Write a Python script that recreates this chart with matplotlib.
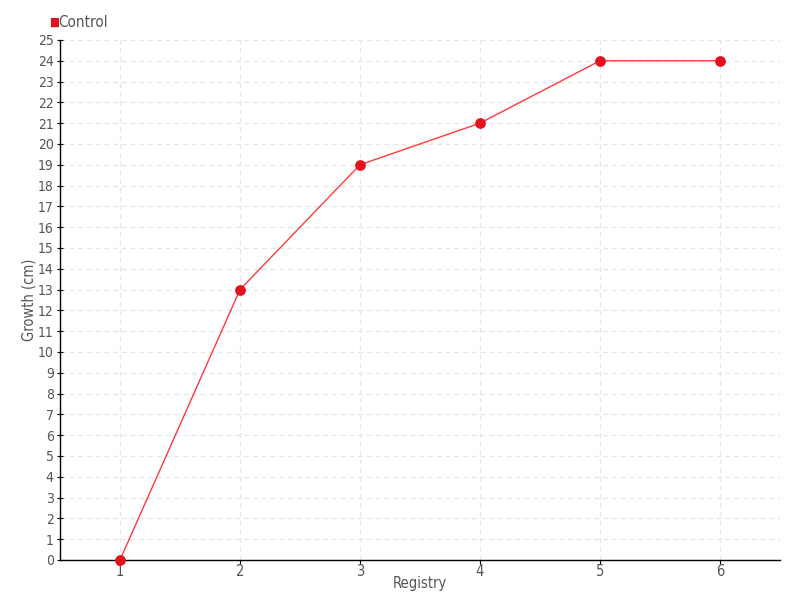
import matplotlib
matplotlib.use("Agg")
import matplotlib.pyplot as plt

registry = [1, 2, 3, 4, 5, 6]
growth = [0, 13, 19, 21, 24, 24]
series_name = "Control"
x_label = "Registry"
y_label = "Growth (cm)"

plt.rcParams['font.family'] = ['DejaVu Sans']
plt.rcParams['font.stretch'] = 'condensed'
txt = '#555555'

fig = plt.figure(figsize=(8, 6), dpi=100)
ax = fig.add_axes([0.075, 0.0667, 0.9, 0.8667])
ax.plot(registry, growth, color='#ff3b3b', lw=1, zorder=3)
ax.scatter(registry, growth, s=45, color='#e3121f', zorder=4, clip_on=False)

ax.set_xlim(0.5, 6.5)
ax.set_ylim(0, 25)
ax.set_xticks(registry)
ax.set_yticks(range(0, 26))
ax.grid(True, color='#e6e6e6', linestyle=(0, (4, 3)), lw=0.9)
ax.set_axisbelow(True)
for s in ['top', 'right']:
    ax.spines[s].set_visible(False)
ax.spines['left'].set_linewidth(1)
ax.spines['bottom'].set_linewidth(1)
ax.tick_params(axis='y', direction='inout', length=5, labelsize=10, labelcolor=txt, pad=2)
ax.tick_params(axis='x', direction='out', length=3, labelsize=10.5, labelcolor=txt, pad=0)
ax.set_xlabel(x_label, fontsize=10.5, color=txt, labelpad=-2)
ax.yaxis.set_label_coords(-0.033, 0.5)
ax.set_ylabel(y_label, fontsize=10.5, color=txt)

fig.text(0.0615, 0.963, '\u25a0', color='#e3121f', fontsize=8.5, va='center', ha='left')
fig.text(0.073, 0.963, series_name, color=txt, fontsize=11, va='center', ha='left')

fig.savefig('out.png', dpi=100)
